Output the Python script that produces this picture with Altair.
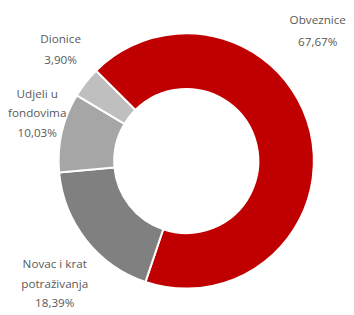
import altair as alt
import pandas as pd
import math

categories = ["Obveznice", "Novac i krat potraživanja", "Udjeli u fondovima", "Dionice"]
values = [67.67, 18.39, 10.03, 3.90]
colors = ["#C00000", "#808080", "#A6A6A6", "#BFBFBF"]
label_lines = [["Obveznice"], ["Novac i krat", "potraživanja"], ["Udjeli u", "fondovima"], ["Dionice"]]

def fmt(v):
    return f"{v:.2f}".replace(".", ",") + "%"

df = pd.DataFrame({"cat": categories, "val": values, "order": list(range(len(values)))})

W, H = 338, 299
CX, CY = 181, 153

donut = alt.Chart(df).mark_arc(outerRadius=131, innerRadius=74, stroke="white", strokeWidth=2).encode(
    theta=alt.Theta("val:Q", stack=True, scale=alt.Scale(range=[-math.pi / 4, 7 * math.pi / 4])),
    color=alt.Color("cat:N", scale=alt.Scale(domain=categories, range=colors), legend=None),
    order=alt.Order("order:Q"),
    x=alt.value(CX),
    y=alt.value(CY),
)

label_pos = [(316, 8.5), (46, 259), (28, 84), (52, 28)]
line_h = [22, 20, 20, 21]
layers = [donut]
for i, cat in enumerate(categories):
    txt = label_lines[i] + [fmt(values[i])]
    ldf = pd.DataFrame({"t": [txt]})
    lx, ly = label_pos[i]
    layers.append(
        alt.Chart(ldf).mark_text(
            font="Open Sans", fontSize=12, color="#595959", align="center",
            baseline="middle", lineHeight=line_h[i]
        ).encode(text="t", x=alt.value(lx), y=alt.value(ly))
    )

chart = alt.layer(*layers).properties(width=W, height=H, padding=0).configure_view(stroke=None)
chart.save("out.html", embed_options={"renderer": "svg", "actions": False})
